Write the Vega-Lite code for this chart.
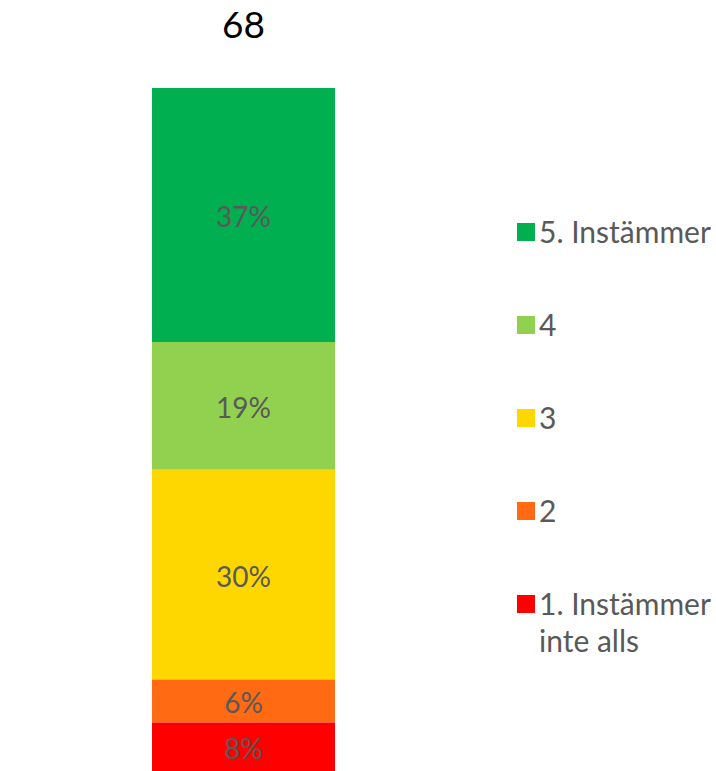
{
  "$schema": "https://vega.github.io/schema/vega-lite/v6.json",
  "width": 183,
  "height": 683,
  "autosize": {"type": "none"},
  "padding": {"left": 152, "top": 88, "right": 381, "bottom": 0},
  "background": "white",
  "config": {"view": {"stroke": null}, "font": "Lato"},
  "title": {"text": "68", "font": "Lato", "fontSize": 37, "fontWeight": "normal", "color": "#000000", "anchor": "middle", "offset": 42},
  "data": {"values": [
    {"bar": "68", "category": "5. Instämmer", "rank": 5, "share": 37.2, "label": "37%"},
    {"bar": "68", "category": "4", "rank": 4, "share": 18.7, "label": "19%"},
    {"bar": "68", "category": "3", "rank": 3, "share": 30.7, "label": "30%"},
    {"bar": "68", "category": "2", "rank": 2, "share": 6.3, "label": "6%"},
    {"bar": "68", "category": "1. Instämmer inte alls", "rank": 1, "share": 7.1, "label": "8%"}
  ]},
  "transform": [
    {"stack": "share", "groupby": ["bar"], "sort": [{"field": "rank", "order": "ascending"}], "as": ["lo", "hi"]},
    {"calculate": "(datum.lo + datum.hi) / 2", "as": "mid"}
  ],
  "encoding": {
    "x": {"field": "bar", "type": "nominal", "axis": null, "scale": {"paddingInner": 0, "paddingOuter": 0}}
  },
  "layer": [
    {
      "mark": {"type": "bar"},
      "encoding": {
        "y": {"field": "lo", "type": "quantitative", "axis": null, "scale": {"domain": [0, 100], "nice": false, "zero": true}},
        "y2": {"field": "hi"},
        "color": {
          "field": "category", "type": "nominal",
          "scale": {"domain": ["5. Instämmer", "4", "3", "2", "1. Instämmer inte alls"], "range": ["#00B050", "#92D050", "#FFD700", "#FF6A13", "#FF0000"]},
          "legend": {
            "title": null, "orient": "none", "legendX": 359, "legendY": 129,
            "symbolType": "square", "symbolSize": 324, "symbolStrokeWidth": 0, "symbolOpacity": 1,
            "labelFont": "Lato", "labelFontSize": 30, "labelColor": "#595959", "labelLimit": 0,
            "labelOffset": -2, "rowPadding": 61, "labelBaseline": "alphabetic",
            "labelExpr": "datum.label == '1. Instämmer inte alls' ? ['1. Instämmer', 'inte alls'] : datum.label",
            "encode": {"labels": {"update": {"dy": {"value": 11}, "lineHeight": {"value": 37}}}}
          }
        }
      }
    },
    {
      "mark": {"type": "text", "font": "Lato", "fontSize": 28, "color": "#595959", "baseline": "middle", "align": "center", "dy": 4},
      "encoding": {
        "y": {"field": "mid", "type": "quantitative"},
        "text": {"field": "label", "type": "nominal"}
      }
    }
  ]
}
